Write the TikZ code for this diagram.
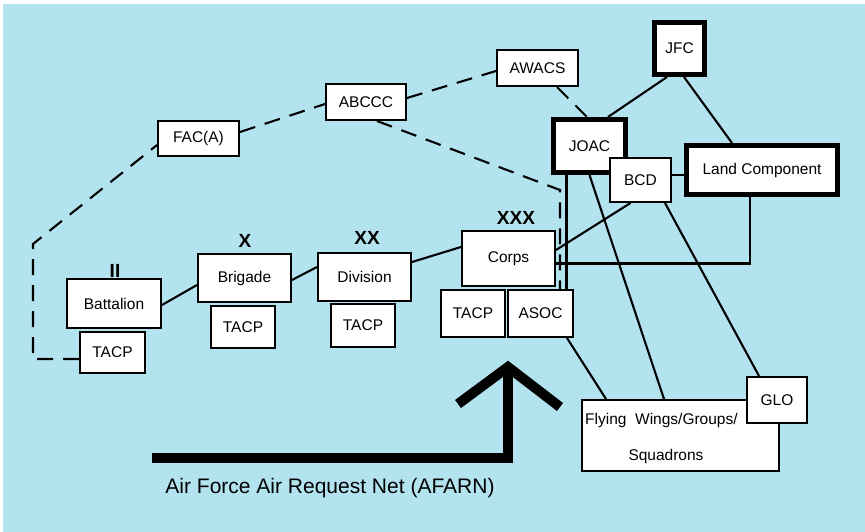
\documentclass[tikz,border=0pt]{standalone}
\usepackage{fontspec}
\setmainfont{Liberation Sans}
\usetikzlibrary{calc}
\pgfdeclarelayer{bg}
\pgfdeclarelayer{lines}
\pgfsetlayers{bg,lines,main}
\definecolor{skyback}{RGB}{179,227,238}
\begin{document}
\begin{tikzpicture}[x=1pt, y=-1pt,
  box/.style={draw, fill=white, line width=2pt, inner sep=0pt, font=\fontsize{15.5}{18}\selectfont},
  heavy/.style={box, line width=5pt},
  conn/.style={line width=2.1pt},
  dashconn/.style={conn, dash pattern=on 16pt off 10pt},
  rank/.style={anchor=base, font=\bfseries\fontsize{19}{22}\selectfont},
  plain/.style={font=\fontsize{15.5}{18}\selectfont, inner sep=0pt},
  bigarrow/.style={line width=10pt}]
\useasboundingbox (0,0) rectangle (865,532);
\begin{pgfonlayer}{bg}
  \fill[white] (0,0) rectangle (865,532);
  \fill[skyback] (3,4) rectangle (865,532);
\end{pgfonlayer}

% boxes
\node[box, minimum width=81pt, minimum height=35pt] (fac) at (198.5,138.5) {FAC(A)};
\node[box, minimum width=80pt, minimum height=36pt] (abccc) at (366,102) {ABCCC};
\node[box, minimum width=81pt, minimum height=36pt] (awacs) at (537.5,68) {AWACS};
\node[heavy, minimum width=50pt, minimum height=52pt] (jfc) at (679.5,48.5) {JFC};
\node[heavy, minimum width=72pt, minimum height=53pt] (joac) at (589.5,146) {JOAC};
\node[box, minimum width=61pt, minimum height=44pt] (bcd) at (640.5,180) {BCD};
\node[heavy, minimum width=151pt, minimum height=49pt] (land) at (762,170) {Land Component};
\node[box, minimum width=93pt, minimum height=55pt] (corps) at (508.5,258.5) {Corps};
\node[box, minimum width=64pt, minimum height=47pt] (ctacp) at (473,313.5) {TACP};
\node[box, minimum width=65pt, minimum height=47pt] (asoc) at (540.5,313.5) {ASOC};
\node[box, minimum width=197pt, minimum height=71pt] (fly) at (680.5,435.5) {};
\node[plain, anchor=base west] (flyA) at (585,424) {Flying\ \ Wings/Groups/};
\node[plain, anchor=base] (flyB) at (666,460) {Squadrons};
\node[box, minimum width=60pt, minimum height=46pt] (glo) at (777,400) {GLO};
\node[box, minimum width=94pt, minimum height=49pt] (batt) at (114,303.5) {Battalion};
\node[box, minimum width=65pt, minimum height=41pt] (btacp) at (112.5,352.5) {TACP};
\node[box, minimum width=93pt, minimum height=48pt] (brig) at (244.5,278) {Brigade};
\node[box, minimum width=64pt, minimum height=42pt] (brtacp) at (243,327) {TACP};
\node[box, minimum width=93pt, minimum height=48pt] (div) at (364.5,277) {Division};
\node[box, minimum width=64pt, minimum height=43pt] (dtacp) at (363,325.5) {TACP};

% rank labels
\node[rank] (r2) at (115,277) {II};
\node[rank] (rx) at (245,247) {X};
\node[rank] (rxx) at (367,244) {XX};
\node[rank] (rxxx) at (516,224) {XXX};

% connectors
\coordinate (d1) at (33,359);
\coordinate (d2) at (33,244);
\coordinate (d3) at (560,190);
\begin{pgfonlayer}{lines}
  \draw[conn] ([yshift=-1.5pt]batt.east) -- ([yshift=-7pt]brig.west);
  \draw[conn] ([yshift=-2pt]brig.east) -- ([yshift=10pt]div.west);
  \draw[conn] ([yshift=15pt]div.east) -- ([yshift=11.5pt]corps.west);
  \draw[conn] ([xshift=-10pt]bcd.south) -- ([yshift=8.5pt]corps.east);
  \draw[conn] ([xshift=-12pt]land.south) |- ([yshift=-5pt]corps.east);
  \draw[conn] ([xshift=-23pt]joac.south) -- ([xshift=-23pt]joac.south |- asoc.north);
  \draw[conn] (joac.south) -- ([xshift=-16.5pt]fly.north);
  \draw[conn] ([xshift=24.5pt]bcd.south) -- ([xshift=-18pt]glo.north);
  \draw[conn] ([xshift=26.5pt]asoc.south) -- ([xshift=-74.5pt]fly.north);
  \draw[conn] ([xshift=-12.5pt]jfc.south) -- ([xshift=18.5pt]joac.north);
  \draw[conn] ([xshift=4.5pt]jfc.south) -- ([xshift=-30pt]land.north);
  \draw[conn] ([yshift=5pt]bcd.east) -- ([yshift=5pt]bcd.east -| land.west);
  % dashed
  \draw[dashconn] ([yshift=-6.5pt]btacp.west) -- (d1) -- (d2) -- ([yshift=-6.5pt]fac.west);
  \draw[dashconn] ([yshift=6.5pt]fac.east) -- ([yshift=-2pt]abccc.west);
  \draw[dashconn] ([yshift=4pt]abccc.east) -- ([yshift=-3pt]awacs.west);
  \draw[dashconn] ([xshift=19.5pt]awacs.south) -- ([xshift=-2.5pt]joac.north);
  \draw[dashconn] ([xshift=11pt]abccc.south) -- (d3) -- ([xshift=19.5pt]asoc.north);
\end{pgfonlayer}

% AFARN arrow
\coordinate (arrL) at (152,458);
\coordinate (arrC) at (508,458);
\coordinate (arrT) at (508,367);
\coordinate (chL) at (458,404);
\coordinate (chR) at (560,407);
\draw[bigarrow] (arrL) -- (arrC) -- (arrT);
\draw[bigarrow] (chL) -- (arrT) -- (chR);
\node[anchor=base, font=\fontsize{21}{24}\selectfont, inner sep=0pt] (afarn) at (330,493) {Air Force Air Request Net (AFARN)};
\end{tikzpicture}
\end{document}
